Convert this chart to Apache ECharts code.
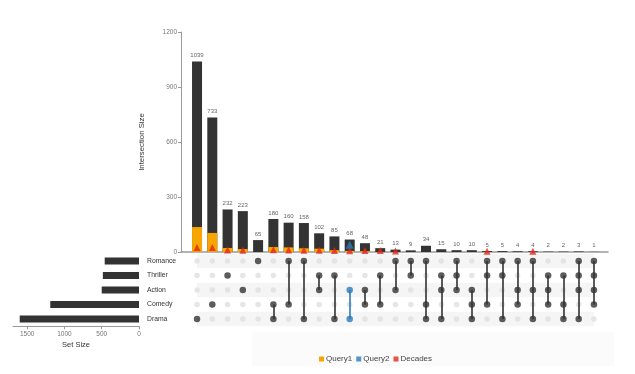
<!DOCTYPE html>
<html><head><meta charset="utf-8">
<script src="https://cdn.jsdelivr.net/npm/echarts@6/dist/echarts.min.js"></script>
<style>html,body{margin:0;padding:0;background:#fff}#c{width:635px;height:374px}</style>
</head><body><div id="c"></div>
<script>
const sets = ["Romance","Thriller","Action","Comedy","Drama"];
const setSizes = [460, 485, 500, 1190, 1600];
const counts = [1039,733,232,223,65,180,160,158,102,85,68,48,21,13,9,34,15,10,10,5,5,4,4,2,2,3,1];
const combos = [
 ["Drama"],["Comedy"],["Thriller"],["Action"],["Romance"],
 ["Comedy","Drama"],["Romance","Comedy"],["Romance","Drama"],["Thriller","Action"],["Thriller","Drama"],
 ["Action","Drama"],["Action","Comedy"],["Thriller","Comedy"],["Romance","Action"],["Romance","Thriller"],
 ["Romance","Comedy","Drama"],["Thriller","Action","Drama"],["Romance","Thriller","Action"],["Action","Comedy","Drama"],
 ["Romance","Thriller","Comedy"],["Romance","Thriller","Drama"],["Romance","Action","Comedy"],["Romance","Action","Drama"],
 ["Thriller","Action","Comedy"],["Thriller","Comedy","Drama"],["Romance","Thriller","Action","Drama"],["Romance","Thriller","Action","Comedy"]
];
const query1 = [136,104,22,16,0,27,25,20,18,10,6,5,0,0,0,0,0,0,0,0,0,0,0,0,0,0,0];
const query2 = [null,null,null,null,null,null,null,null,null,null,40,null,null,null,null,null,null,null,null,null,null,null,null,null,null,null,null];
const decades = [24,24,11,10,null,12,11,10,10,8,7,8,8,6,null,null,null,null,null,4,null,null,4,null,null,null,null];
const query2Column = 10;
const yTicks = [0,300,600,900,1200];

const DARK = '#333333', ORANGE = '#f7a500', BLUE = '#2b7bba', RED = '#e5261c';
const FONT = 'Liberation Sans';

const barData = counts.map((v,i)=>[i,v]);
const q1Data = query1.map((v,i)=>[i, v>0?v:null]);
const q2Data = query2.map((v,i)=>[i,v]);
const decData = decades.map((v,i)=>[i,v]);

const emptyDots=[], fullDots=[], blueDots=[], lineData=[], blueLines=[];
combos.forEach((c,i)=>{
  const rows = c.map(s=>sets.indexOf(s));
  sets.forEach((s,r)=>{
    if(rows.indexOf(r)<0) emptyDots.push([i,r]);
    else if(i===query2Column) blueDots.push([i,r]);
    else fullDots.push([i,r]);
  });
  if(rows.length>1){
    const seg={coords:[[i,Math.min(...rows)],[i,Math.max(...rows)]]};
    if(i===query2Column) blueLines.push(seg); else lineData.push(seg);
  }
});

const chart = echarts.init(document.getElementById('c'));
chart.setOption({
  animation:false,
  textStyle:{fontFamily:FONT},
  graphic:[{type:'rect',shape:{x:252,y:332,width:362,height:34},style:{fill:'#fbfbfb'},z:-10}],
  legend:{
    left:314, top:350, itemWidth:5, itemHeight:5, itemGap:4, icon:'rect',
    textStyle:{fontSize:8,color:'#444',fontFamily:FONT,padding:[0,0,0,-3]},
    data:['Query1','Query2','Decades']
  },
  grid:[
    {left:181, top:32, width:427, height:220},
    {left:181, top:253.75, width:427, height:72.5},
    {left:13, top:253.75, width:126, height:72.5}
  ],
  xAxis:[
    {gridIndex:0,type:'value',min:-1.05,max:26.92,
      axisLine:{show:true,onZero:false,lineStyle:{color:'#9a9a9a',width:1.5}},
      axisTick:{show:false},axisLabel:{show:false},splitLine:{show:false}},
    {gridIndex:1,type:'value',min:-1.05,max:26.92,show:false,splitLine:{show:false}},
    {gridIndex:2,type:'value',min:0,max:1690,interval:500,inverse:true,
      axisLine:{show:true,lineStyle:{color:'#999'}},
      axisTick:{show:true,length:3,lineStyle:{color:'#999'}},
      axisLabel:{fontSize:6.5,color:'#777',margin:4,showMaxLabel:false,formatter:v=>String(v)},
      splitLine:{show:false},
      name:'Set Size',nameLocation:'middle',nameGap:15,
      nameTextStyle:{fontSize:7.5,color:'#333'}}
  ],
  yAxis:[
    {gridIndex:0,type:'value',min:0,max:1200,interval:300,
      axisLine:{show:true,onZero:false,lineStyle:{color:'#999'}},
      axisTick:{show:true,length:3,lineStyle:{color:'#999'}},
      axisLabel:{fontSize:6.5,color:'#777',margin:4,formatter:v=>yTicks.indexOf(v)>=0?String(v):''},
      splitLine:{show:false},
      name:'Intersection Size',nameLocation:'middle',nameGap:35,nameRotate:90,
      nameTextStyle:{fontSize:7.8,color:'#333'}},
    {gridIndex:1,type:'value',min:-0.5,max:4.5,inverse:true,show:false,splitLine:{show:false}},
    {gridIndex:2,type:'category',data:sets,inverse:true,position:'right',
      axisLine:{show:false},axisTick:{show:false},
      axisLabel:{fontSize:6.8,color:'#333',margin:8}}
  ],
  series:[
    {type:'bar',xAxisIndex:0,yAxisIndex:0,data:barData,barWidth:10,itemStyle:{color:DARK},
      label:{show:true,position:'top',distance:3,fontSize:6,color:'#666'},z:2},
    {name:'Query1',type:'bar',xAxisIndex:0,yAxisIndex:0,data:q1Data,barWidth:10,barGap:'-100%',
      itemStyle:{color:ORANGE},z:3},
    {name:'Query2',type:'scatter',xAxisIndex:0,yAxisIndex:0,data:q2Data,symbol:'triangle',symbolSize:8,
      itemStyle:{color:BLUE},z:5},
    {name:'Decades',type:'scatter',xAxisIndex:0,yAxisIndex:0,data:decData,symbol:'triangle',symbolSize:7,
      itemStyle:{color:RED},z:4},
    {type:'scatter',xAxisIndex:1,yAxisIndex:1,data:emptyDots,symbolSize:5.5,itemStyle:{color:'#e0e0e0'},z:2,
      markArea:{silent:true,itemStyle:{color:'#f5f5f5'},data:[
        [{xAxis:'min',yAxis:-0.5},{xAxis:'max',yAxis:0.5}],
        [{xAxis:'min',yAxis:1.5},{xAxis:'max',yAxis:2.5}],
        [{xAxis:'min',yAxis:3.5},{xAxis:'max',yAxis:4.5}]
      ]}},
    {type:'lines',coordinateSystem:'cartesian2d',xAxisIndex:1,yAxisIndex:1,data:lineData,
      lineStyle:{color:DARK,width:1.6,opacity:1},z:3},
    {type:'lines',coordinateSystem:'cartesian2d',xAxisIndex:1,yAxisIndex:1,data:blueLines,
      lineStyle:{color:BLUE,width:1.6,opacity:1},z:3},
    {type:'scatter',xAxisIndex:1,yAxisIndex:1,data:fullDots,symbolSize:6.5,itemStyle:{color:DARK},z:4},
    {type:'scatter',xAxisIndex:1,yAxisIndex:1,data:blueDots,symbolSize:6.5,itemStyle:{color:BLUE},z:4},
    {type:'bar',xAxisIndex:2,yAxisIndex:2,data:setSizes,barWidth:7,itemStyle:{color:DARK}}
  ]
});
</script></body></html>
